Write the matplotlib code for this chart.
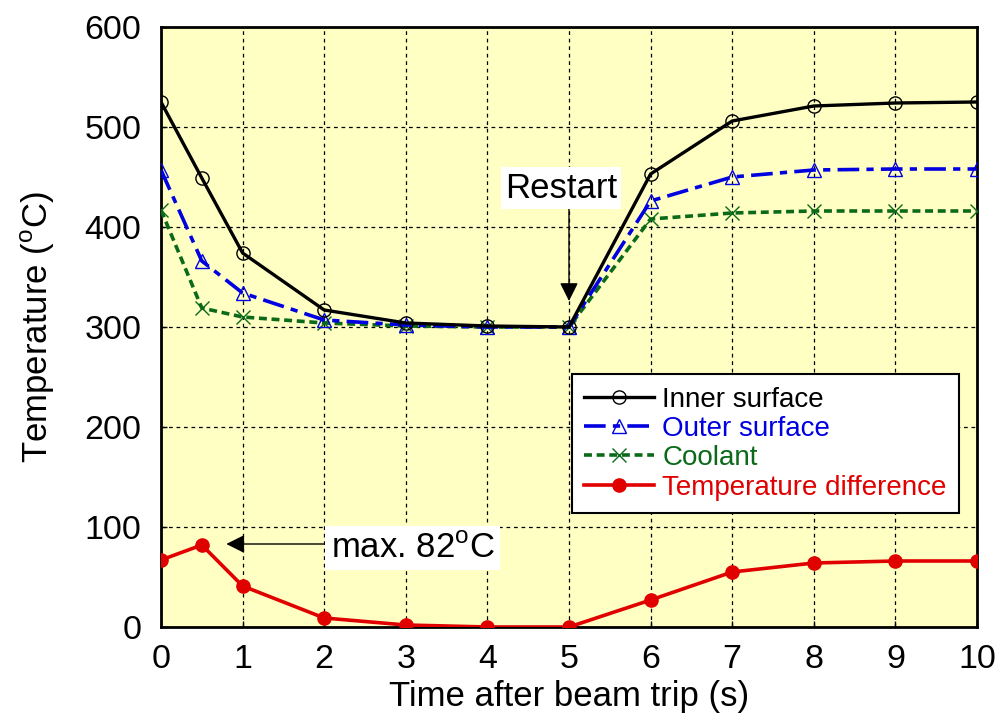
import matplotlib
matplotlib.use('Agg')
import matplotlib.pyplot as plt
import numpy as np

plt.rcParams['font.family'] = ['Liberation Sans', 'DejaVu Sans']
plt.rcParams['mathtext.fontset'] = 'custom'
plt.rcParams['mathtext.rm'] = 'Liberation Sans'

time = [0, 0.5, 1, 2, 3, 4, 5, 6, 7, 8, 9, 10]
inner = [525, 449, 374, 317, 304, 301, 300, 453, 506, 521, 524, 525]
outer = [457, 366, 334, 307, 302, 300, 300, 426, 450, 457, 458, 458]
coolant = [417, 319, 310, 304, 301, 300, 300, 408, 414, 416, 416, 416]
diff = [67, 82, 41, 9, 2, 0, 0, 27, 55, 64, 66, 66]

fig = plt.figure(figsize=(9.96, 7.22), dpi=100)
ax = fig.add_axes([161/996, 1-627/722, 816/996, 600/722])
ax.set_facecolor('#ffffc4')

ax.plot(time, inner, color='black', lw=2.4, marker='o', ms=9.5, mfc='none',
        mec='black', mew=1, label='Inner surface', zorder=5)
ax.plot(time, outer, color='#0000e0', lw=2.6, marker='^', ms=9.5, mfc='none',
        mec='#0000e0', mew=1, dashes=(6, 2, 2, 2), label='Outer surface', zorder=4)
ax.plot(time, coolant, color='#0b6a1a', lw=2.6, marker='x', ms=10,
        mec='#0b6a1a', mew=1, dashes=(2.2, 1.3), label='Coolant', zorder=3)
ax.plot(time, diff, color='#e00000', lw=2.6, marker='o', ms=9.5,
        mfc='#e00000', mec='#e00000', label='Temperature difference', zorder=5)

ax.set_xlim(0, 10)
ax.set_ylim(0, 600)
ax.set_xticks(np.arange(0, 11, 1))
ax.set_yticks(np.arange(0, 601, 100))
ax.tick_params(labelsize=24.5, direction='in', length=4, width=1)
ax.tick_params(axis='x', pad=12)
ax.tick_params(axis='y', pad=14)
ax.grid(True, color='black', lw=0.9, dashes=(3, 3))
for s in ax.spines.values():
    s.set_linewidth(2)

ax.set_xlabel('Time after beam trip (s)', fontsize=25, labelpad=4)
ax.set_ylabel(r'Temperature ($^{\rm o}$C)', fontsize=25, labelpad=20)

# annotations
ax.annotate('', xy=(5, 326), xytext=(5, 420),
            arrowprops=dict(arrowstyle='-|>', color='black', lw=1,
                            mutation_scale=28, shrinkA=0, shrinkB=0))
ax.text(4.9, 439, 'Restart', fontsize=25, ha='center', va='center',
        bbox=dict(facecolor='white', edgecolor='none', pad=3), zorder=6)

ax.annotate('', xy=(0.8, 83), xytext=(2.0, 83),
            arrowprops=dict(arrowstyle='-|>', color='black', lw=1,
                            mutation_scale=28, shrinkA=0, shrinkB=0))
ax.text(2.08, 79, r'max. 82$^{\rm o}$C', fontsize=25, ha='left', va='center',
        bbox=dict(facecolor='white', edgecolor='none', pad=4), zorder=6)

leg = ax.legend(loc='lower right', bbox_to_anchor=(0.978, 0.19), fontsize=20,
                frameon=True, fancybox=False, edgecolor='black',
                handlelength=2.5, borderpad=0.45, labelspacing=0.12,
                handletextpad=0.3, borderaxespad=0)
leg.get_frame().set_linewidth(1.5)
leg.get_frame().set_facecolor('white')
leg.get_frame().set_alpha(1)
for t, c in zip(leg.get_texts(), ['black', '#0000e0', '#0b6a1a', '#e00000']):
    t.set_color(c)

fig.savefig('out.png', dpi=100)
